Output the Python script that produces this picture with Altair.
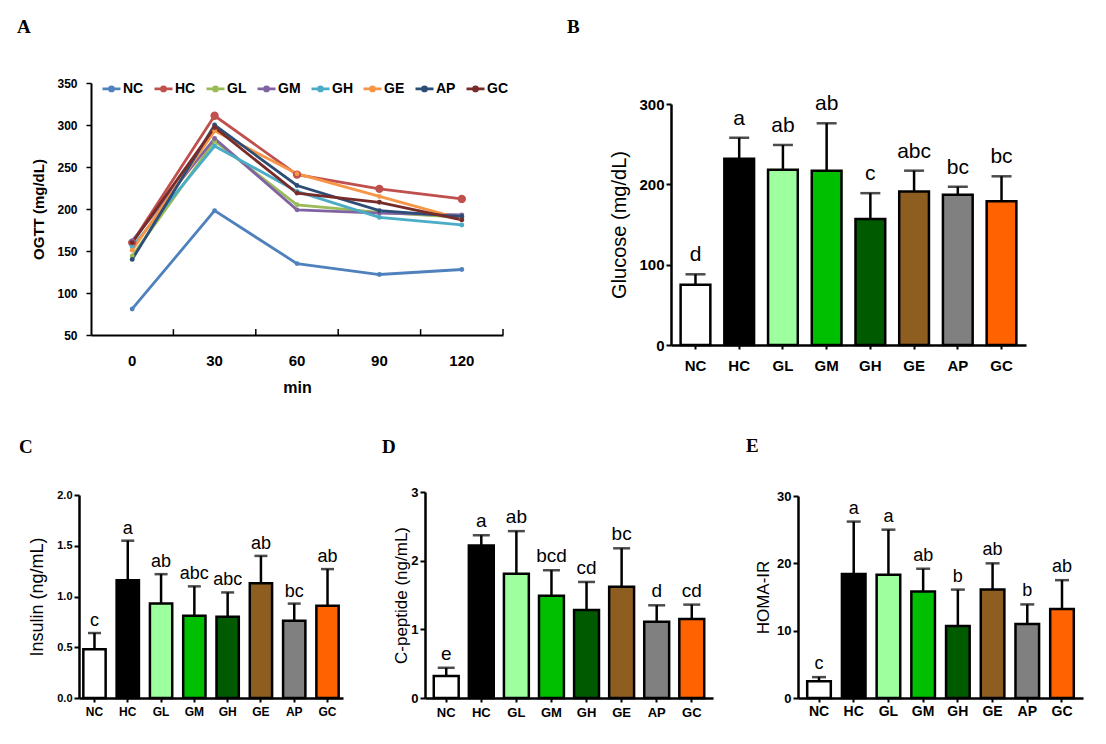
import altair as alt
import pandas as pd

# ---------------- data ----------------
groups = ["NC", "HC", "GL", "GM", "GH", "GE", "AP", "GC"]
bar_colors = ["#FFFFFF", "#000000", "#9EFF9E", "#00BF00", "#005A00", "#8E5E20", "#808080", "#FF6200"]
line_colors = ["#4F81BD", "#C0504D", "#9BBB59", "#8064A2", "#4BACC6", "#F79646", "#2C4D75", "#772C2A"]

times = ["0", "30", "60", "90", "120"]
ogtt_NC = [81, 198, 135, 122, 128]
ogtt_HC = [160, 311, 241, 224, 212]
ogtt_GL = [144, 281, 205, 196, 190]
ogtt_GM = [162, 284, 199, 195, 193]
ogtt_GH = [155, 275, 221, 190, 181]
ogtt_GE = [151, 293, 242, 215, 188]
ogtt_AP = [140, 300, 228, 198, 191]
ogtt_GC = [160, 297, 219, 208, 187]
ogtt = [ogtt_NC, ogtt_HC, ogtt_GL, ogtt_GM, ogtt_GH, ogtt_GE, ogtt_AP, ogtt_GC]

glucose_mean = [75, 232, 218, 217, 157, 191, 187, 179]
glucose_sd = [13, 26, 31, 59, 32, 26, 10, 31]
glucose_letters = ["d", "a", "ab", "ab", "c", "abc", "bc", "bc"]

insulin_mean = [0.48, 1.16, 0.93, 0.81, 0.80, 1.13, 0.76, 0.91]
insulin_sd = [0.16, 0.39, 0.29, 0.29, 0.24, 0.27, 0.17, 0.36]
insulin_letters = ["c", "a", "ab", "abc", "abc", "ab", "bc", "ab"]

cpep_mean = [0.32, 2.22, 1.81, 1.49, 1.28, 1.62, 1.11, 1.15]
cpep_sd = [0.12, 0.15, 0.62, 0.37, 0.41, 0.56, 0.24, 0.21]
cpep_letters = ["e", "a", "ab", "bcd", "cd", "bc", "d", "cd"]

homa_mean = [2.5, 18.4, 18.3, 15.8, 10.7, 16.1, 11.0, 13.2]
homa_sd = [0.6, 7.8, 6.7, 3.4, 5.4, 3.9, 2.9, 4.3]
homa_letters = ["c", "a", "a", "ab", "b", "ab", "b", "ab"]

FONT = "Liberation Sans"
SERIF = "Liberation Serif"


def panel_title(letter, dx, offset):
    return alt.TitleParams(text=letter, anchor="start", frame="group", font=SERIF,
                           fontSize=19, fontWeight="bold", color="black",
                           dx=dx, offset=offset)


# ---------------- panel A ----------------
rows = []
for s, vals in zip(groups, ogtt):
    for t, v in zip(times, vals):
        rows.append({"series": s, "min": t, "value": v})
df_a = pd.DataFrame(rows)
df_t = pd.DataFrame({"min": times})

xA_scale = alt.Scale(type="band", paddingInner=0, paddingOuter=0, range=[12, 424])
yA_scale = alt.Scale(domain=[50, 350], nice=False, zero=False)

xA = alt.X("min:O", sort=times, scale=xA_scale,
           axis=alt.Axis(title="min", ticks=False, tickSize=0, labelAngle=0, labelAlign="center",
                         labelFontSize=15, labelFontWeight="bold", labelPadding=25,
                         titleFontSize=16, titleFontWeight="bold", titlePadding=11,
                         domainColor="black", domainWidth=2, labelColor="black",
                         titleColor="black", labelFont=FONT, titleFont=FONT))
yA = alt.Y("value:Q", scale=yA_scale,
           axis=alt.Axis(title="OGTT (mg/dL)", values=[50, 100, 150, 200, 250, 300, 350],
                         offset=-12, grid=False, tickSize=5, tickColor="black", tickWidth=1.5,
                         domainColor="black", domainWidth=2, labelFontSize=12,
                         labelFontWeight="bold", labelPadding=9, labelColor="black",
                         titleFontSize=15, titleFontWeight="bold", titlePadding=10,
                         titleColor="black", labelFont=FONT, titleFont=FONT))

sym = "M-1,0L1,0M-0.22,0A0.22,0.22,0,1,1,0.22,0A0.22,0.22,0,1,1,-0.22,0Z"
legA = alt.Legend(title=None, orient="none", legendX=22, legendY=-5, direction="horizontal",
                  columns=8, symbolType=sym, symbolSize=324, symbolStrokeWidth=2.8,
                  labelFontSize=14, labelFontWeight="bold", labelFont=FONT, labelColor="black",
                  columnPadding=4, labelOffset=1)
colA = alt.Color("series:N", sort=groups, scale=alt.Scale(domain=groups, range=line_colors),
                 legend=legA)

baseA = alt.Chart(df_a)
linesA = baseA.mark_line(strokeWidth=2.8).encode(x=xA, y=yA, color=colA)
pointsA = baseA.mark_point(filled=True, opacity=1).encode(
    x=xA, y=yA, color=colA,
    size=alt.condition("datum.series == 'HC'", alt.value(70), alt.value(24)))
ticksA = alt.Chart(df_t).mark_rule(color="black", strokeWidth=1.5).encode(
    x=alt.X("min:O", sort=times, bandPosition=1, scale=xA_scale),
    y=alt.datum(50), y2=alt.datum(57))

chartA = alt.layer(ticksA, linesA, pointsA).properties(
    width=424, height=252, title=panel_title("A", -62, 40))


# ---------------- bar panels ----------------
def bar_panel(mean, sd, letters, ymax, yvals, yfmt, ytitle, width, height, rtop, xrange,
              pin, pout, cap, tick_fs, xlab_fs, title_fs, letter_fs, title_pad, xlab_pad,
              letter_dy, letter, ldx, loff):
    df = pd.DataFrame({"group": groups, "mean": mean,
                       "top": [m + s for m, s in zip(mean, sd)], "letter": letters})
    if xrange is None:
        xs = alt.Scale(paddingInner=pin, paddingOuter=pout)
    else:
        xs = alt.Scale(paddingInner=pin, paddingOuter=pout, range=xrange)
    ys = alt.Scale(domain=[0, ymax], range=[height, rtop], nice=False, zero=True)
    x = alt.X("group:N", sort=groups, scale=xs,
              axis=alt.Axis(title=None, labelAngle=0, labelAlign="center", labelFontSize=xlab_fs,
                            labelFontWeight="bold", labelColor="black", labelFont=FONT,
                            tickSize=4, tickWidth=2, tickColor="black", domainColor="black",
                            domainWidth=2.5, labelPadding=xlab_pad))
    y = alt.Y("mean:Q", scale=ys,
              axis=alt.Axis(title=ytitle, values=yvals, format=yfmt, grid=False, tickSize=5,
                            tickWidth=2, tickColor="black", domainColor="black", domainWidth=2.5,
                            labelFontSize=tick_fs, labelFontWeight="bold", labelColor="black",
                            labelFont=FONT, labelPadding=2, titleFontSize=title_fs,
                            titleFontWeight="normal", titleFont=FONT, titleColor="black",
                            titlePadding=title_pad))
    base = alt.Chart(df)
    bars = base.mark_bar(stroke="black", strokeWidth=2.5).encode(
        x=x, y=y,
        fill=alt.Fill("group:N", scale=alt.Scale(domain=groups, range=bar_colors), legend=None))
    rule = base.mark_rule(color="black", strokeWidth=2.5).encode(
        x=alt.X("group:N", sort=groups), y="mean:Q", y2="top:Q")
    capm = base.mark_tick(color="black", thickness=2.5, size=cap).encode(
        x=alt.X("group:N", sort=groups), y="top:Q")
    txt = base.mark_text(baseline="alphabetic", dy=letter_dy, fontSize=letter_fs, font=FONT,
                         color="black").encode(
        x=alt.X("group:N", sort=groups), y="top:Q", text="letter:N")
    return alt.layer(rule, bars, capm, txt).properties(
        width=width, height=height, title=panel_title(letter, ldx, loff))


chartB = bar_panel(glucose_mean, glucose_sd, glucose_letters, 300, [0, 100, 200, 300], "d",
                   "Glucose  (mg/dL)", 355, 262, 21, None, 0.32, 0.22, 20,
                   15, 15, 20, 21, 9, 16, -13, "B", -104, 46)
chartC = bar_panel(insulin_mean, insulin_sd, insulin_letters, 2.0, [0.0, 0.5, 1.0, 1.5, 2.0], ".1f",
                   "Insulin (ng/mL)", 264, 206, 3, None, 0.33, 0.13, 13,
                   11, 12, 18, 18, 10, 9, -7, "C", -60, 32)
chartD = bar_panel(cpep_mean, cpep_sd, cpep_letters, 3, [0, 1, 2, 3], "d",
                   "C-peptide (ng/mL)", 291, 206, 0, [0, 288], 0.29, 0.25, 17,
                   13, 13, 17, 19, 0, 10, -8, "D", -43, 29)
chartE = bar_panel(homa_mean, homa_sd, homa_letters, 30, [0, 10, 20, 30], "d",
                   "HOMA-IR", 285, 206, 4, None, 0.32, 0.265, 14,
                   13, 14, 17, 18, 4, 9, -8, "E", -52, 34)

top = alt.hconcat(chartA, chartB, spacing=168, bounds="flush")
bottom = alt.hconcat(chartC, chartD, chartE, spacing=82, bounds="flush")
chart = alt.vconcat(top, bottom, spacing=409, bounds="flush").properties(
    padding={"left": 17, "top": 18, "right": 5, "bottom": 5}
).configure(font=FONT, background="white").configure_view(stroke=None)

chart.save("out.html", embed_options={"renderer": "svg", "actions": False})
